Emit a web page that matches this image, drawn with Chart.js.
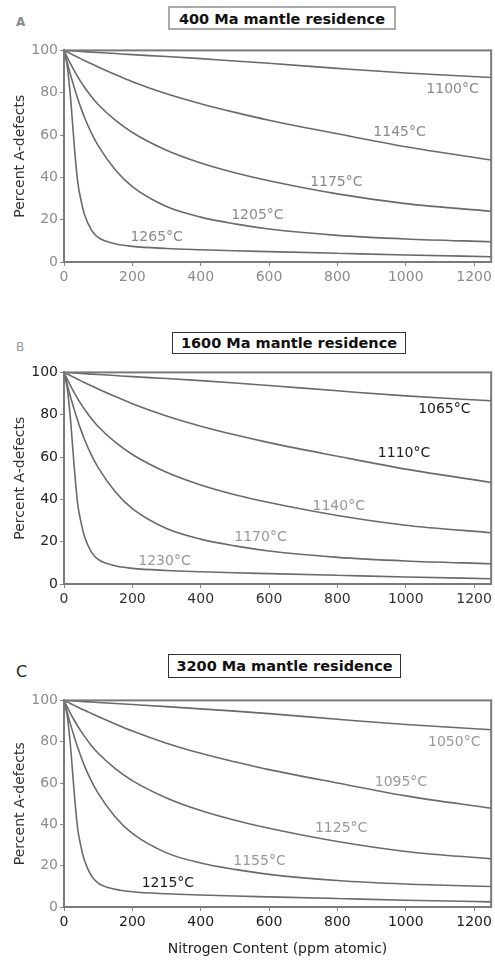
<!DOCTYPE html>
<html>
<head>
<meta charset="utf-8">
<script src="https://cdn.jsdelivr.net/npm/chart.js@4.4.1/dist/chart.umd.min.js"></script>
<style>
  html, body { margin: 0; padding: 0; background: #fff; overflow: hidden; }
  body { width: 495px; height: 960px; position: relative; font-family: "DejaVu Sans", sans-serif; }
  canvas { position: absolute; left: 0; }
  .letter { position: absolute; left: 16px; line-height: 1; }
  .title { position: absolute; box-sizing: border-box; border: 1px solid #333; font-weight: bold;
           font-size: 14.5px; text-align: center; background: #fff; color: #111; white-space: nowrap; }
</style>
</head>
<body>
<div class="letter" style="top:16px; font-size:12px; font-weight:bold; color:#888;">A</div>
<div class="title" style="left:168px; top:6px; width:228px; height:24px; line-height:22px; border:2px solid #aaa;">400 Ma mantle residence</div>
<canvas id="chartA" width="495" height="252" style="top:40px;"></canvas>

<div class="letter" style="top:341px; font-size:12px; color:#999;">B</div>
<div class="title" style="left:172px; top:332px; width:234px; height:22px; line-height:20px;">1600 Ma mantle residence</div>
<canvas id="chartB" width="495" height="252" style="top:362px;"></canvas>

<div class="letter" style="top:664px; font-size:16px; color:#222;">C</div>
<div class="title" style="left:168px; top:654px; width:233px; height:24px; line-height:22px;">3200 Ma mantle residence</div>
<canvas id="chartC" width="495" height="269" style="top:690px;"></canvas>

<script>
// 窒素量 (ppm atomic)
const nitrogen = [0, 10, 20, 30, 40, 50, 60, 80, 100, 150, 200, 300, 400, 500, 600, 800, 1000, 1250];
const xTicks = [0, 200, 400, 600, 800, 1000, 1200];
const yTicks = [0, 20, 40, 60, 80, 100];

// A: 400 Ma
const tempsA = ['1100°C', '1145°C', '1175°C', '1205°C', '1265°C'];
const a1100 = [100, 99.9, 99.8, 99.7, 99.6, 99.5, 99.4, 99.2, 99.0, 98.5, 98.0, 97.1, 96.1, 95.0, 93.9, 91.5, 89.3, 87.2];
const a1145 = [100, 99.2, 98.4, 97.6, 96.8, 96.0, 95.2, 93.7, 92.2, 88.6, 85.2, 79.5, 74.8, 70.7, 67.0, 60.6, 54.5, 48.2];
const a1175 = [100, 96.6, 93.4, 90.4, 87.6, 85.0, 82.6, 78.2, 74.4, 67.0, 61.2, 52.8, 46.8, 42.2, 38.4, 32.2, 27.6, 24.0];
const a1205 = [100, 93.8, 87.9, 82.4, 77.3, 72.6, 68.3, 61.0, 55.0, 43.6, 35.6, 26.2, 21.2, 18.0, 15.6, 12.6, 10.9, 9.6];
const a1265 = [100, 92.0, 76.0, 55.0, 38.0, 29.0, 22.5, 15.2, 11.6, 8.6, 7.4, 6.4, 5.8, 5.3, 4.9, 4.1, 3.3, 2.5];
const labelNA = [1137, 982, 797, 566, 271];
const labelPctA = [81.6, 61.3, 37.7, 22.2, 11.8];

// B: 1600 Ma
const tempsB = ['1065°C', '1110°C', '1140°C', '1170°C', '1230°C'];
const b1065 = [100, 99.9, 99.8, 99.7, 99.6, 99.5, 99.4, 99.2, 99.0, 98.5, 98.0, 97.1, 96.1, 95.0, 93.8, 91.3, 88.9, 86.6];
const b1110 = [100, 99.2, 98.4, 97.6, 96.8, 96.0, 95.2, 93.7, 92.2, 88.6, 85.2, 79.4, 74.6, 70.5, 66.8, 60.4, 54.3, 48.0];
const b1140 = [100, 96.6, 93.4, 90.4, 87.6, 85.0, 82.6, 78.2, 74.4, 67.0, 61.2, 52.8, 46.8, 42.2, 38.5, 32.4, 27.8, 24.2];
const b1170 = [100, 93.8, 87.9, 82.4, 77.3, 72.6, 68.3, 61.0, 55.0, 43.6, 35.6, 26.2, 21.2, 18.0, 15.6, 12.6, 10.9, 9.6];
const b1230 = [100, 92.0, 76.0, 55.0, 38.0, 29.0, 22.5, 15.2, 11.6, 8.6, 7.4, 6.4, 5.8, 5.3, 4.9, 4.1, 3.3, 2.5];
const labelNB = [1113, 995, 804, 575, 294];
const labelPctB = [82.4, 61.6, 36.5, 22.0, 10.5];

// C: 3200 Ma
const tempsC = ['1050°C', '1095°C', '1125°C', '1155°C', '1215°C'];
const c1050 = [100, 99.9, 99.8, 99.7, 99.6, 99.5, 99.4, 99.2, 99.0, 98.5, 98.0, 97.0, 95.9, 94.8, 93.6, 90.9, 88.3, 85.8];
const c1095 = [100, 99.2, 98.4, 97.6, 96.8, 96.0, 95.2, 93.7, 92.2, 88.6, 85.2, 79.3, 74.4, 70.3, 66.5, 60.0, 53.8, 47.8];
const c1125 = [100, 96.6, 93.4, 90.4, 87.6, 85.0, 82.6, 78.2, 74.4, 67.0, 61.2, 52.8, 46.7, 42.0, 38.1, 31.7, 26.9, 23.3];
const c1155 = [100, 93.8, 87.9, 82.4, 77.3, 72.6, 68.3, 61.0, 55.0, 43.6, 35.6, 26.2, 21.3, 18.2, 15.8, 12.8, 11.1, 9.9];
const c1215 = [100, 92.0, 76.0, 55.0, 38.0, 29.0, 22.5, 15.2, 11.6, 8.6, 7.4, 6.4, 5.8, 5.3, 4.9, 4.1, 3.3, 2.5];
const labelNC = [1142, 986, 811, 572, 304];
const labelPctC = [79.6, 60.3, 37.9, 22.0, 11.6];

const FONT = '"DejaVu Sans", sans-serif';

// 枠線
const framePlugin = {
    id: 'frame',
    afterDraw(chart) {
        const a = chart.chartArea;
        const ctx = chart.ctx;
        ctx.save();
        ctx.strokeStyle = '#7a7a7a';
        ctx.lineWidth = 2;
        ctx.strokeRect(a.left, a.top, a.right - a.left, a.bottom - a.top);
        ctx.restore();
    }
};

// 曲線ラベル
const curveLabelPlugin = {
    id: 'curveLabels',
    afterDatasetsDraw(chart, args, opts) {
        const ctx = chart.ctx;
        ctx.save();
        ctx.font = '14px ' + FONT;
        ctx.textAlign = 'center';
        ctx.textBaseline = 'middle';
        opts.texts.forEach((t, i) => {
            ctx.fillStyle = opts.colors[i];
            ctx.fillText(t, chart.scales.x.getPixelForValue(opts.xs[i]), chart.scales.y.getPixelForValue(opts.ys[i]));
        });
        ctx.restore();
    }
};

function makeChart(id, series, temps, labelN, labelPct, cfg) {
    return new Chart(document.getElementById(id), {
        type: 'line',
        data: {
            datasets: series.map((vals, i) => ({
                label: temps[i],
                data: nitrogen.map((n, j) => ({ x: n, y: vals[j] })),
                borderColor: '#6a6a6a',
                borderWidth: 1.6,
                pointRadius: 0,
                fill: false,
                cubicInterpolationMode: 'monotone'
            }))
        },
        plugins: [framePlugin, curveLabelPlugin],
        options: {
            responsive: false,
            animation: false,
            layout: { padding: { left: 8, top: cfg.padTop, right: 3, bottom: 0 } },
            plugins: {
                legend: { display: false },
                tooltip: { enabled: false },
                curveLabels: { texts: temps, xs: labelN, ys: labelPct, colors: cfg.labelColors }
            },
            scales: {
                x: {
                    type: 'linear',
                    min: 0,
                    max: 1250,
                    afterBuildTicks: s => { s.ticks = xTicks.map(v => ({ value: v })); },
                    afterFit: s => { s.height = cfg.xHeight; },
                    ticks: {
                        color: cfg.xTickColor, font: { family: FONT, size: 14 }, padding: 3,
                        maxRotation: 0, autoSkip: false, callback: v => String(v)
                    },
                    grid: { drawOnChartArea: false, tickLength: 4, color: '#888' },
                    border: { color: '#777', width: 2 },
                    title: {
                        display: cfg.xTitle,
                        text: 'Nitrogen Content (ppm atomic)',
                        color: '#222',
                        font: { family: FONT, size: 14 },
                        padding: { top: 0, bottom: 1 }
                    }
                },
                y: {
                    min: 0,
                    max: 100,
                    afterBuildTicks: s => { s.ticks = yTicks.map(v => ({ value: v })); },
                    afterFit: s => { s.width = 56; },
                    ticks: { color: cfg.yTickColor, font: { family: FONT, size: 14 }, padding: 2, callback: v => String(v) },
                    grid: { drawOnChartArea: false, tickLength: 4, color: '#888' },
                    border: { color: '#777', width: 2 },
                    title: {
                        display: true,
                        text: 'Percent A-defects',
                        color: '#333',
                        font: { family: FONT, size: 14 },
                        padding: { top: 4, bottom: 0 }
                    }
                }
            }
        }
    });
}

makeChart('chartA', [a1100, a1145, a1175, a1205, a1265], tempsA, labelNA, labelPctA, {
    padTop: 10, xHeight: 30, xTitle: false,
    xTickColor: '#8c8c8c', yTickColor: '#8c8c8c',
    labelColors: ['#8a8a8a', '#8a8a8a', '#8a8a8a', '#8a8a8a', '#8a8a8a']
});
makeChart('chartB', [b1065, b1110, b1140, b1170, b1230], tempsB, labelNB, labelPctB, {
    padTop: 10, xHeight: 30, xTitle: false,
    xTickColor: '#333', yTickColor: '#222',
    labelColors: ['#222', '#222', '#999', '#999', '#999']
});
makeChart('chartC', [c1050, c1095, c1125, c1155, c1215], tempsC, labelNC, labelPctC, {
    padTop: 5, xHeight: 52, xTitle: true,
    xTickColor: '#222', yTickColor: '#8c8c8c',
    labelColors: ['#999', '#999', '#999', '#999', '#222']
});
</script>
</body>
</html>
